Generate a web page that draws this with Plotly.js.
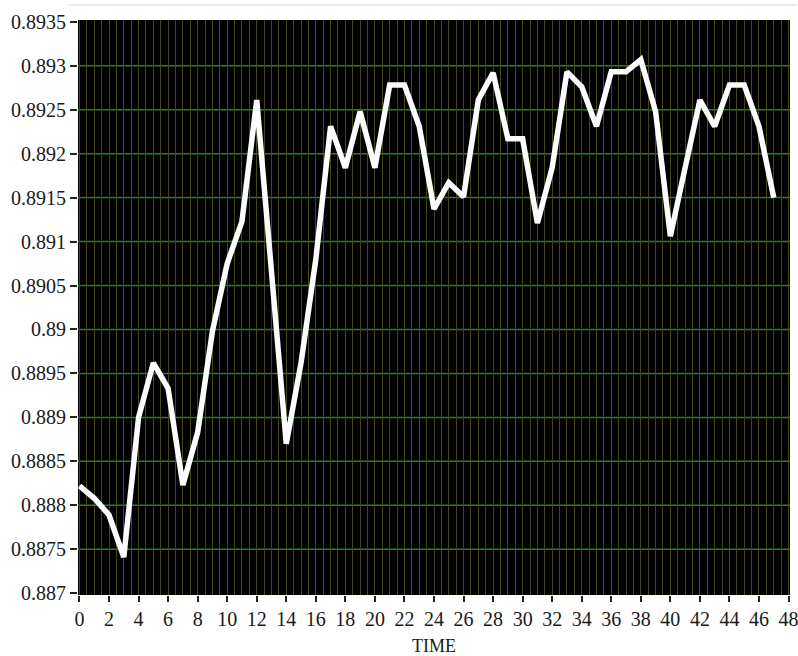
<!DOCTYPE html>
<html>
<head>
<meta charset="utf-8">
<script src="https://cdn.plot.ly/plotly-3.0.1.min.js"></script>
<style>
  html, body { margin: 0; padding: 0; background: #ffffff; }
  #chart { width: 798px; height: 656px; }
</style>
</head>
<body>
<div id="chart"></div>
<script>
// Data
const time = [0,1,2,3,4,5,6,7,8,9,10,11,12,13,14,15,16,17,18,19,20,21,22,23,24,25,26,27,28,29,30,31,32,33,34,35,36,37,38,39,40,41,42,43,44,45,46,47];
const values = [
  0.88822, 0.88808, 0.88789, 0.88741, 0.88900, 0.88962, 0.88933, 0.88823, 0.88883, 0.88998,
  0.89075, 0.89123, 0.89261, 0.89063, 0.88870, 0.88962, 0.89080, 0.89231, 0.89184, 0.89248,
  0.89184, 0.89278, 0.89278, 0.89231, 0.89137, 0.89167, 0.89151, 0.89261, 0.89292, 0.89217,
  0.89217, 0.89121, 0.89184, 0.89293, 0.89276, 0.89231, 0.89293, 0.89293, 0.89307, 0.89248,
  0.89106, 0.89184, 0.89261, 0.89231, 0.89278, 0.89278, 0.89231, 0.89150
];
const yTickVals = [0.887, 0.8875, 0.888, 0.8885, 0.889, 0.8895, 0.89, 0.8905, 0.891, 0.8915, 0.892, 0.8925, 0.893, 0.8935];
const yTickText = ["0.887", "0.8875", "0.888", "0.8885", "0.889", "0.8895", "0.89", "0.8905", "0.891", "0.8915", "0.892", "0.8925", "0.893", "0.8935"];
const yGridVals = yTickVals.slice(1, -1);
const xTickVals = [0,2,4,6,8,10,12,14,16,18,20,22,24,26,28,30,32,34,36,38,40,42,44,46,48];
const xTickText = xTickVals.map(String);
const xTitle = "TIME";

const fontFam = "Liberation Serif";

const trace = {
  x: time,
  y: values,
  type: "scatter",
  mode: "lines",
  line: { color: "#fcfcfc", width: 5.5, shape: "linear" },
  hoverinfo: "x+y"
};

const gridShapes = yGridVals.map(v => ({
  type: "line", xref: "paper", yref: "y",
  x0: 0, x1: 1, y0: v, y1: v,
  layer: "below",
  line: { color: "#2c7a2c", width: 1.5 }
}));

const layout = {
  width: 798,
  height: 656,
  margin: { l: 77.5, r: 8, t: 20, b: 61 },
  paper_bgcolor: "#ffffff",
  plot_bgcolor: "#000000",
  showlegend: false,
  font: { family: fontFam, color: "#1a1a1a", size: 20 },
  xaxis: {
    range: [-0.1, 48.1],
    tickmode: "array",
    tickvals: xTickVals,
    ticktext: xTickText,
    ticks: "outside",
    ticklen: 6,
    tickwidth: 2,
    tickcolor: "#222222",
    ticklabeloverflow: "allow",
    showgrid: true,
    gridcolor: "#46461c",
    gridwidth: 1,
    minor: { dtick: 0.5, tick0: 0, showgrid: true, gridcolor: "#46461c", gridwidth: 1, ticks: "" },
    zeroline: false,
    showline: false,
    tickfont: { family: fontFam, size: 20, color: "#1a1a1a" },
    title: { text: xTitle, font: { family: fontFam, size: 18, color: "#1a1a1a" }, standoff: 14 },
    automargin: false,
    fixedrange: true
  },
  yaxis: {
    range: [0.88698, 0.89352],
    tickmode: "array",
    tickvals: yTickVals,
    ticktext: yTickText,
    ticks: "outside",
    ticklen: 7,
    tickwidth: 2,
    tickcolor: "#222222",
    showgrid: false,
    zeroline: false,
    showline: false,
    tickfont: { family: fontFam, size: 20, color: "#1a1a1a" },
    automargin: false,
    fixedrange: true
  },
  shapes: [
    {
      type: "line", xref: "paper", yref: "paper",
      x0: -0.0133, x1: 1.01, y0: 1.026, y1: 1.026,
      line: { color: "#e6e6e6", width: 1.5 }
    }
  ].concat(gridShapes)
};

Plotly.newPlot("chart", [trace], layout, { displayModeBar: false, staticPlot: true });
</script>
</body>
</html>
